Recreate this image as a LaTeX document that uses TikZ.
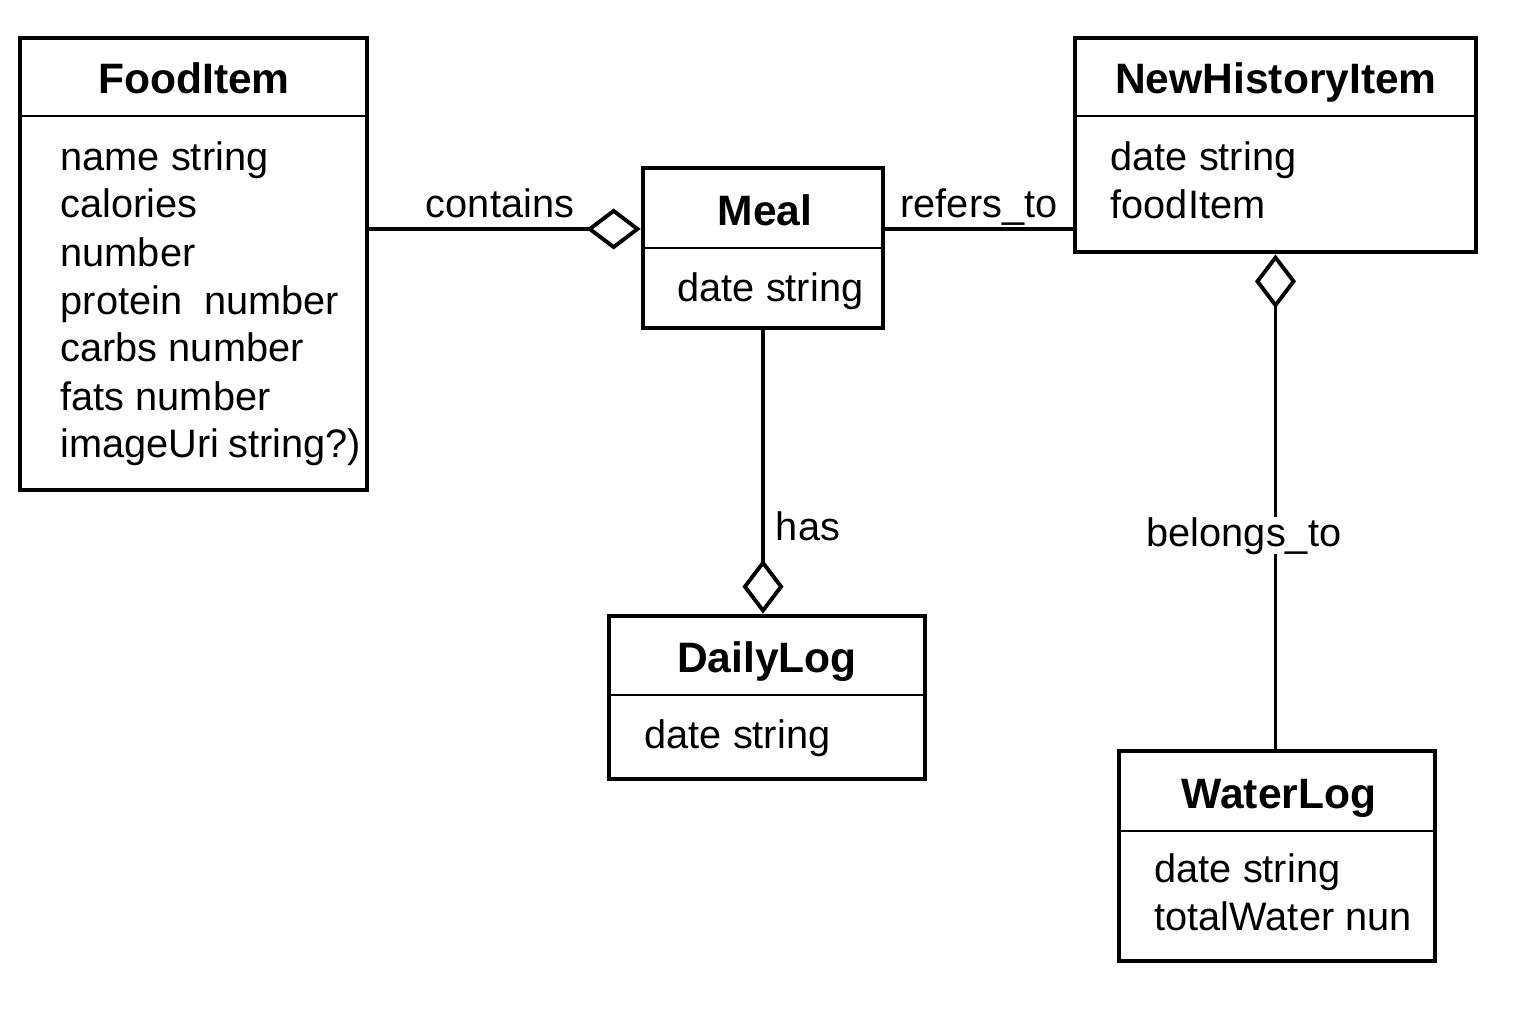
\documentclass[tikz,border=0pt]{standalone}
\usepackage{fontspec}
\setmainfont{Liberation Sans}
\usetikzlibrary{arrows.meta}
\begin{document}
\begin{tikzpicture}[x=0.01cm,y=-0.01cm,
  cls/.style={draw=black, line width=1.3pt, inner sep=0pt},
  ttl/.style={anchor=base, font=\fontsize{12.1}{14}\selectfont\bfseries, inner sep=0pt},
  attr/.style={anchor=base west, font=\fontsize{11.3}{14}\selectfont, inner sep=0pt},
  lbl/.style={anchor=base, font=\fontsize{11.3}{14}\selectfont, inner sep=0pt},
  conn/.style={line width=1.1pt},
  agg/.style={line width=1.1pt, {Diamond[open, length=0.54cm, width=0.41cm, line width=1.1pt]}-}
]
\useasboundingbox (0,0) rectangle (1536,1024);
% boxes
\node[cls, minimum width=3.47cm, minimum height=4.52cm] (fi) at (193.5,264) {};
\node[cls, minimum width=2.40cm, minimum height=1.60cm] (meal) at (763,248) {};
\node[cls, minimum width=4.01cm, minimum height=2.14cm] (nhi) at (1275.5,145) {};
\node[cls, minimum width=3.16cm, minimum height=1.63cm] (dl) at (767,697.5) {};
\node[cls, minimum width=3.16cm, minimum height=2.10cm] (wl) at (1277,856) {};
% dividers
\draw[line width=0.8pt] (fi.west |- 0,116) -- (fi.east |- 0,116);
\draw[line width=0.8pt] (meal.west |- 0,248) -- (meal.east |- 0,248);
\draw[line width=0.8pt] (nhi.west |- 0,116) -- (nhi.east |- 0,116);
\draw[line width=0.8pt] (dl.west |- 0,695) -- (dl.east |- 0,695);
\draw[line width=0.8pt] (wl.west |- 0,831) -- (wl.east |- 0,831);
% titles
\node[ttl] (fit) at (194,93) {FoodItem};
\node[ttl] (mealt) at (765,225) {Meal};
\node[ttl] (nhit) at (1276,93) {NewHistoryItem};
\node[ttl] (dlt) at (767,672) {DailyLog};
\node[ttl] (wlt) at (1279,808) {WaterLog};
% attributes
\node[attr] (fa1) at (60,170) {name string};
\node[attr] (fa2) at (60,217) {calories};
\node[attr] (fa3) at (60,266) {number};
\node[attr] (fa4) at (60,314) {protein\ \ number};
\node[attr] (fa5) at (60,361) {carbs number};
\node[attr] (fa6) at (60,410) {fats number};
\node[attr] (fa7) at (60,457) {imageUri\kern-0.05em\ string?)};
\node[attr] (ma1) at (677,301) {date string};
\node[attr] (na1) at (1110,170) {date string};
\node[attr] (na2) at (1110,218) {foodItem};
\node[attr] (da1) at (644,748) {date string};
\node[attr] (wa1) at (1154,882) {date string};
\node[attr] (wa2) at (1154,930) {totalWater nun};
% connectors
\coordinate (mw) at ([yshift=0.19cm]meal.west);
\draw[agg] (mw) -- (fi.east |- mw);
\draw[conn] (meal.east |- mw) -- (nhi.west |- mw);
\draw[agg] (meal.south |- dl.north) -- (meal.south);
\draw[agg] (nhi.south) -- (nhi.south |- wl.north);
% labels
\node[lbl] (lc) at (500,217) {contains};
\node[lbl] (lr) at (979,217) {refers\_to};
\node[lbl] (lh) at (808,540) {has};
\node[lbl, fill=white] (lb) at (1244,546) {belongs\_to};
\end{tikzpicture}
\end{document}
